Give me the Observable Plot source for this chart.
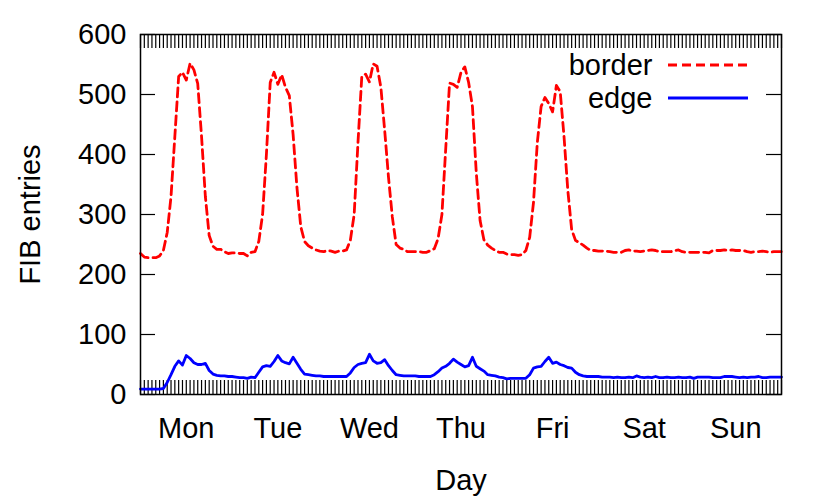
<!DOCTYPE html>
<html><head><meta charset="utf-8">
<script src="https://cdn.jsdelivr.net/npm/d3@7"></script>
<script src="https://cdn.jsdelivr.net/npm/@observablehq/plot@0.6"></script>
<style>
body{margin:0;background:#fff}
svg{font-family:"Liberation Sans",Arial,sans-serif}
</style>
</head><body><div id="chart"></div>
<script>
// ---- data (hourly samples, Monday 00:00 = hour 0) ----
const days = ["Mon","Tue","Wed","Thu","Fri","Sat","Sun"];
const dayCenters = [12,36,60,84,108,132,156];
const yTicks = [0,100,200,300,400,500,600];
const seriesNames = ["border","edge"];
const hours = [
  0,1,2,3,4,5,6,7,8,9,10,11,12,13,14,15,16,17,18,19,20,21,22,23,
  24,25,26,27,28,29,30,31,32,33,34,35,36,37,38,39,40,41,42,43,44,45,46,47,
  48,49,50,51,52,53,54,55,56,57,58,59,60,61,62,63,64,65,66,67,68,69,70,71,
  72,73,74,75,76,77,78,79,80,81,82,83,84,85,86,87,88,89,90,91,92,93,94,95,
  96,97,98,99,100,101,102,103,104,105,106,107,108,109,110,111,112,113,114,115,116,117,118,119,
  120,121,122,123,124,125,126,127,128,129,130,131,132,133,134,135,136,137,138,139,140,141,142,143,
  144,145,146,147,148,149,150,151,152,153,154,155,156,157,158,159,160,161,162,163,164,165,166,167,168
];
const border = [
  235,229,228,228,228,231,240,270,330,430,
  530,537,524,552,541,518,430,330,265,247,
  242,242,238,235,236,236,235,235,231,237,
  238,255,300,400,520,537,517,533,512,498,
  433,345,280,255,248,244,241,239,238,240,
  239,237,239,239,241,257,300,420,530,534,
  521,551,547,512,440,362,296,250,244,242,
  238,238,238,238,237,237,240,243,260,300,
  410,519,517,512,537,546,520,480,370,290,
  258,249,244,240,237,237,234,233,233,232,
  233,240,262,320,420,480,495,485,471,515,
  505,430,340,275,257,253,249,244,240,240,
  239,239,239,238,237,237,237,240,241,239,
  239,238,239,240,241,240,238,238,238,238,
  240,241,238,237,237,237,237,237,237,236,
  240,240,240,241,240,241,240,240,240,238,
  237,238,238,239,238,237,238,238,238
];
const edge = [
  9,9,9,9,9,9,10,20,33,47,
  56,49,65,60,53,50,50,52,40,34,
  32,31,31,30,30,29,28,28,27,29,
  28,37,46,48,47,55,65,56,53,51,
  62,52,42,34,33,32,31,31,30,30,
  30,30,30,30,30,36,45,50,52,53,
  67,56,52,53,58,48,40,33,32,31,
  31,31,31,30,30,30,30,33,38,44,
  47,52,59,54,50,46,48,62,47,43,
  39,33,32,31,29,28,26,27,27,27,
  27,27,33,44,46,47,55,62,52,54,
  50,48,45,44,37,33,31,30,30,30,
  30,29,29,29,28,29,28,28,29,28,
  31,29,28,29,28,30,28,28,29,28,
  28,29,28,28,29,27,29,29,29,29,
  28,28,28,30,30,30,29,28,29,28,
  29,29,30,28,28,29,29,29,29
];

// ---- layout ----
const W = 830, H = 503;
const mL = 140, mR = 49, mT = 34, mB = 109;
const fh = H - mT - mB, fw = W - mL - mR;
const FS = 29;
const red = "#ff0000", blue = "#0000ff";

const rows = hours.map((h, i) => ({h, border: border[i], edge: edge[i]}));

const chart = Plot.plot({
  width: W, height: H,
  marginLeft: mL, marginRight: mR, marginTop: mT, marginBottom: mB,
  style: {fontFamily: "Liberation Sans, Arial, sans-serif", fontSize: FS + "px", color: "black", background: "white"},
  x: {domain: [0, 168]},
  y: {domain: [0, 600]},
  marks: [
    // hourly minor ticks, inward, bottom and top
    Plot.ruleX(hours, {x: d => d, insetTop: fh - 14, stroke: "black", strokeWidth: 1.2}),
    Plot.ruleX(hours, {x: d => d, insetBottom: fh - 14, stroke: "black", strokeWidth: 1.2}),
    // y major ticks, inward, left and right
    Plot.ruleY(yTicks, {y: d => d, insetRight: fw - 15, stroke: "black", strokeWidth: 1.2}),
    Plot.ruleY(yTicks, {y: d => d, insetLeft: fw - 15, stroke: "black", strokeWidth: 1.2}),
    Plot.axisY({ticks: yTicks, tickSize: 0, tickPadding: 14, fontSize: FS, label: null}),
    Plot.axisX({ticks: dayCenters, tickFormat: d => days[Math.floor(d / 24)], tickSize: 0, tickPadding: 23, fontSize: FS, label: null}),
    Plot.text(["FIB entries"], {frameAnchor: "left", textAnchor: "middle", lineAnchor: "middle", rotate: -90, dx: -110, fontSize: FS, fill: "black"}),
    Plot.text(["Day"], {frameAnchor: "bottom", lineAnchor: "middle", dy: 86, fontSize: FS, fill: "black"}),
    Plot.line(rows, {x: "h", y: "border", stroke: red, strokeWidth: 2.8, strokeDasharray: "9,5", strokeLinejoin: "round"}),
    Plot.line(rows, {x: "h", y: "edge", stroke: blue, strokeWidth: 2.8, strokeLinejoin: "round"}),
    // legend labels
    Plot.text([seriesNames[0]], {frameAnchor: "top-right", dx: -129, dy: 31, textAnchor: "end", lineAnchor: "middle", fontSize: FS, fill: "black"}),
    Plot.text([seriesNames[1]], {frameAnchor: "top-right", dx: -129, dy: 64, textAnchor: "end", lineAnchor: "middle", fontSize: FS, fill: "black"}),
    Plot.frame({stroke: "black", strokeWidth: 1.5})
  ]
});

// legend line samples
const svg = d3.select(chart);
const lg = svg.append("g");
const x0 = W - mR - 113, x1 = W - mR - 33;
lg.append("line").attr("x1", x0).attr("x2", x1).attr("y1", mT + 31).attr("y2", mT + 31)
  .attr("stroke", red).attr("stroke-width", 2.8).attr("stroke-dasharray", "9,5");
lg.append("line").attr("x1", x0).attr("x2", x1).attr("y1", mT + 64).attr("y2", mT + 64)
  .attr("stroke", blue).attr("stroke-width", 2.8);

document.getElementById("chart").appendChild(chart);
</script>
</body></html>
